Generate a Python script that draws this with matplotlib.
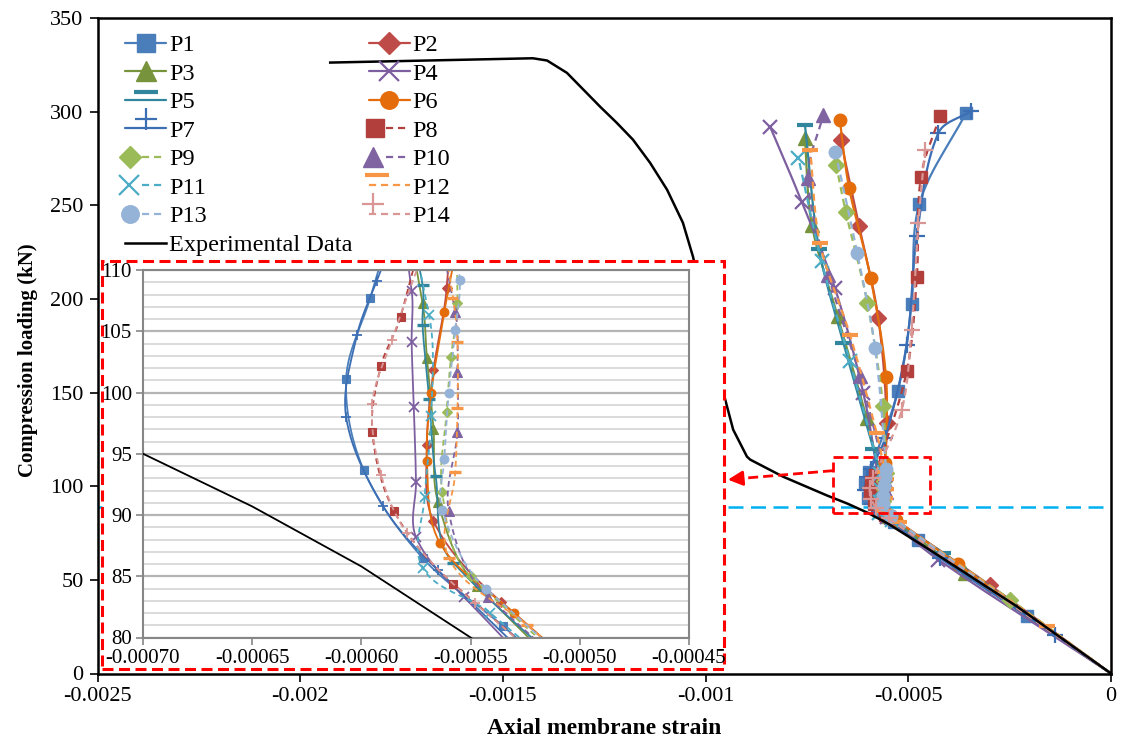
import numpy as np
import matplotlib
matplotlib.use("Agg")
import matplotlib.pyplot as plt
from matplotlib.lines import Line2D
from matplotlib.patches import Rectangle
from matplotlib.legend_handler import HandlerBase

plt.rcParams['font.family'] = ['Liberation Serif', 'DejaVu Serif']

# ---------------- data: axial membrane strain vs compression load (kN) ----------------
P1_strain = [0, -0.000208, -0.000475, -0.000535, -0.000572, -0.000599, -0.000607, -0.000596, -0.000526, -0.000492, -0.000473, -0.000358]
P1_load = [0, 30.6, 71.5, 80.9, 86.5, 93.7, 101.1, 107.7, 150.6, 197.3, 250.6, 299.2]

P2_strain = [0, -0.000298, -0.000536, -0.000567, -0.000570, -0.000567, -0.000561, -0.000553, -0.000574, -0.000621, -0.000667]
P2_load = [0, 47.0, 82.9, 89.5, 95.7, 101.8, 108.5, 133.8, 189.8, 238.7, 285.0]

P3_strain = [0, -0.000360, -0.000547, -0.000565, -0.000567, -0.000570, -0.000572, -0.000603, -0.000674, -0.000738, -0.000755]
P3_load = [0, 53.7, 84.2, 91.1, 97.0, 102.8, 107.3, 136.4, 190.7, 239.6, 285.9]

P4_strain = [0, -0.000426, -0.000553, -0.000575, -0.000575, -0.000576, -0.000577, -0.000577, -0.000611, -0.000681, -0.000763, -0.000841]
P4_load = [0, 60.8, 83.3, 88.2, 92.7, 98.8, 104.1, 108.3, 149.8, 205.8, 252.0, 292.0]

P5_strain = [0, -0.000414, -0.000558, -0.000566, -0.000569, -0.000572, -0.000572, -0.000586, -0.000660, -0.000720, -0.000755]
P5_load = [0, 64.4, 86.1, 93.2, 99.5, 105.5, 108.8, 119.9, 176.5, 226.6, 293.0]

P6_strain = [0, -0.000377, -0.000530, -0.000564, -0.000570, -0.000568, -0.000562, -0.000557, -0.000555, -0.000593, -0.000646, -0.000669]
P6_load = [0, 58.2, 82.0, 87.7, 94.4, 100.0, 106.6, 112.4, 158.3, 211.2, 259.2, 295.6]

P7_strain = [0, -0.000138, -0.000422, -0.000565, -0.000590, -0.000607, -0.000602, -0.000593, -0.000557, -0.000504, -0.000479, -0.000426, -0.000345]
P7_load = [0, 20.8, 61.7, 85.5, 90.7, 98.0, 104.7, 109.1, 125.8, 175.6, 233.4, 288.5, 300.3]

P8_strain = [0, -0.000558, -0.000585, -0.000595, -0.000591, -0.000582, -0.000504, -0.000479, -0.000469, -0.000422]
P8_load = [0, 84.4, 90.3, 96.8, 102.2, 106.2, 161.3, 211.7, 265.0, 297.8]

P9_strain = [0, -0.000249, -0.000550, -0.000563, -0.000561, -0.000559, -0.000556, -0.000562, -0.000601, -0.000654, -0.000678]
P9_load = [0, 39.5, 85.0, 91.9, 98.4, 102.9, 107.3, 142.6, 197.8, 246.2, 271.6]

P10_strain = [0, -0.000542, -0.000560, -0.000556, -0.000556, -0.000557, -0.000619, -0.000697, -0.000747, -0.000710]
P10_load = [0, 83.3, 90.3, 96.8, 101.7, 106.6, 158.6, 212.9, 264.5, 298.3]

P11_strain = [0, -0.000541, -0.000572, -0.000571, -0.000568, -0.000569, -0.000644, -0.000714, -0.000771]
P11_load = [0, 82.0, 85.7, 91.5, 98.1, 106.3, 166.6, 220.0, 275.2]

P12_strain = [0, -0.000159, -0.000524, -0.000560, -0.000557, -0.000556, -0.000556, -0.000558, -0.000578, -0.000644, -0.000718, -0.000742]
P12_load = [0, 25.2, 81.0, 86.5, 93.5, 98.7, 104.1, 107.7, 128.4, 180.9, 229.8, 279.6]

P13_strain = [0, -0.000543, -0.000563, -0.000562, -0.000560, -0.000557, -0.000555, -0.000582, -0.000626, -0.000680]
P13_load = [0, 84.0, 90.4, 94.6, 100.0, 105.1, 109.2, 173.8, 224.5, 278.7]

P14_strain = [0, -0.000548, -0.000579, -0.000591, -0.000595, -0.000586, -0.000516, -0.000492, -0.000475, -0.000459]
P14_load = [0, 82.8, 88.5, 93.3, 99.1, 104.3, 140.9, 183.6, 240.5, 279.6]

exp_strain = [0, -0.000232, -0.000455, -0.000550, -0.000600, -0.000650, -0.000700, -0.000809, -0.000890,
              -0.000898, -0.000932, -0.000960, -0.001031, -0.001056, -0.001095, -0.001137, -0.001179,
              -0.001219, -0.001260, -0.001342, -0.001391, -0.001426, -0.001926]
exp_load = [0, 35.8, 67.1, 80.0, 85.8, 90.7, 95.0, 105.1, 114.2, 115.8, 130.2, 153.1, 222.5, 240.7,
            258.3, 272.7, 285.0, 294.0, 302.6, 320.7, 327.3, 328.5, 326.2]

series_labels = ['P1', 'P2', 'P3', 'P4', 'P5', 'P6', 'P7', 'P8', 'P9', 'P10', 'P11', 'P12', 'P13', 'P14']

main_xticks = [-0.0025, -0.002, -0.0015, -0.001, -0.0005, 0]
main_xticklabels = ['-0.0025', '-0.002', '-0.0015', '-0.001', '-0.0005', '0']
main_yticks = [0, 50, 100, 150, 200, 250, 300, 350]
zoom_xticks = [-0.00070, -0.00065, -0.00060, -0.00055, -0.00050, -0.00045]
zoom_xticklabels = ['-0.00070', '-0.00065', '-0.00060', '-0.00055', '-0.00050', '-0.00045']
zoom_yticks = [80, 85, 90, 95, 100, 105, 110]
yield_load = 89.1

data = {
    'P1': (P1_strain, P1_load), 'P2': (P2_strain, P2_load), 'P3': (P3_strain, P3_load),
    'P4': (P4_strain, P4_load), 'P5': (P5_strain, P5_load), 'P6': (P6_strain, P6_load),
    'P7': (P7_strain, P7_load), 'P8': (P8_strain, P8_load), 'P9': (P9_strain, P9_load),
    'P10': (P10_strain, P10_load), 'P11': (P11_strain, P11_load), 'P12': (P12_strain, P12_load),
    'P13': (P13_strain, P13_load), 'P14': (P14_strain, P14_load),
}

# ---------------- styles ----------------
DASH = (0, (3.2, 2.2))
style = {
    'P1': dict(color='#4A7EBB', ls='-', marker='s', ms=9, mew=1.0),
    'P2': dict(color='#BE4B48', ls='-', marker='D', ms=8, mew=1.0),
    'P3': dict(color='#77933C', ls='-', marker='^', ms=10, mew=1.0),
    'P4': dict(color='#7D5FA0', ls='-', marker='x', ms=10, mew=1.6),
    'P5': dict(color='#31859C', ls='-', marker='_', ms=12, mew=3.0),
    'P6': dict(color='#E46C0A', ls='-', marker='o', ms=9, mew=1.0),
    'P7': dict(color='#3C6EB4', ls='-', marker='+', ms=11, mew=1.6),
    'P8': dict(color='#B23F3C', ls=DASH, marker='s', ms=9, mew=1.0),
    'P9': dict(color='#9BBB59', ls=DASH, marker='D', ms=8, mew=1.0),
    'P10': dict(color='#8064A2', ls=DASH, marker='^', ms=10, mew=1.0),
    'P11': dict(color='#4BACC6', ls=DASH, marker='x', ms=10, mew=1.6),
    'P12': dict(color='#F79646', ls=DASH, marker='_', ms=12, mew=3.0),
    'P13': dict(color='#95B3D7', ls=DASH, marker='o', ms=9, mew=1.0),
    'P14': dict(color='#D99694', ls=DASH, marker='+', ms=11, mew=1.6),
}


def smooth(axis, xs, ys, n=14):
    """Cubic Bezier smoothing through the points, computed in display space.
    Tangent length is tied to each segment's length so long runs don't overshoot."""
    pts = axis.transData.transform(np.column_stack([xs, ys]))
    m = len(pts)
    tang = np.zeros_like(pts)
    for i in range(m):
        d = pts[min(i + 1, m - 1)] - pts[max(i - 1, 0)]
        L = np.hypot(*d)
        tang[i] = d / L if L > 0 else 0.0
    t = np.linspace(0, 1, n, endpoint=False)[:, None]
    segs = []
    for i in range(m - 1):
        p1, p2 = pts[i], pts[i + 1]
        L = np.hypot(*(p2 - p1))
        c1 = p1 + tang[i] * L / 3.0
        c2 = p2 - tang[i + 1] * L / 3.0
        segs.append((1 - t) ** 3 * p1 + 3 * (1 - t) ** 2 * t * c1 + 3 * (1 - t) * t ** 2 * c2 + t ** 3 * p2)
    segs.append(pts[-1:])
    out = axis.transData.inverted().transform(np.vstack(segs))
    return out[:, 0], out[:, 1], n


def draw_series(axis, lw, mscale):
    handles = {}
    for lab in series_labels:
        xs, ys = data[lab]
        st = style[lab]
        sx, sy, n = smooth(axis, xs, ys)
        marks = [i * n for i in range(1, len(xs))]
        h, = axis.plot(sx, sy, color=st['color'], linestyle=st['ls'], linewidth=lw,
                       marker=st['marker'], markersize=st['ms'] * mscale,
                       markeredgewidth=st['mew'] * (0.8 if mscale < 1 else 1.0),
                       markerfacecolor=st['color'], markeredgecolor=st['color'],
                       markevery=marks, label=lab, solid_capstyle='round')
        handles[lab] = h
    return handles


# ---------------- figure / main axes ----------------
W, H = 1126, 743
fig = plt.figure(figsize=(W / 100, H / 100), dpi=100)
ax = fig.add_axes([97.5 / W, (H - 673.5) / H, 1013.5 / W, 655.5 / H])
ax.set_xlim(-0.0025, 0)
ax.set_ylim(0, 350)
ax.set_xticks(main_xticks, main_xticklabels)
ax.set_yticks(main_yticks)
ax.tick_params(direction='out', length=6, width=1.2, labelsize=16, pad=4)
for sp in ax.spines.values():
    sp.set_linewidth(1.8)
    sp.set_color('black')
ax.set_xlabel('Axial membrane strain', fontsize=17, fontweight='bold', labelpad=8)
ax.set_ylabel('Compression loading (kN)', fontsize=15, fontweight='bold')
ax.yaxis.set_label_coords(-0.0587, 0.478)

ax.axhline(yield_load, color='#00B0F0', linestyle=(0, (6, 3)), linewidth=1.8, zorder=1)

handles = draw_series(ax, lw=1.6, mscale=1.0)
exp_h, = ax.plot(exp_strain, exp_load, color='black', linewidth=1.8, label='Experimental Data', zorder=3)

# zoom window marker + arrow towards the magnified view
ax.add_patch(Rectangle((-0.000686, 85.9), 0.000240, 29.9, fill=False, edgecolor='#FF0000',
                       linestyle=(0, (3.6, 1.8)), linewidth=2.0, zorder=4))
ax.plot([-0.000686, -0.000915], [108.3, 104.1], color='#FF0000', linestyle=(0, (3.6, 1.8)),
        linewidth=2.0, zorder=4)
ax.annotate('', xy=(-0.000945, 103.5), xytext=(-0.000915, 104.1),
            arrowprops=dict(arrowstyle='-|>', color='#FF0000', lw=2.0, mutation_scale=22,
                            shrinkA=0, shrinkB=0), zorder=4)


# ---------------- legend ----------------
class SeriesHandler(HandlerBase):
    def __init__(self, mfrac=0.5, mdy=0.0, line_start=0.0):
        super().__init__()
        self.mfrac = mfrac
        self.mdy = mdy
        self.line_start = line_start

    def create_artists(self, legend, orig_handle, xdescent, ydescent, width, height, fontsize, trans):
        y = (height - ydescent) / 2
        x0 = -xdescent
        line = Line2D([x0 + self.line_start * width, x0 + width], [y, y])
        line.update_from(orig_handle)
        line.set_marker('None')
        line.set_markevery(None)
        line.set_transform(trans)
        arts = [line]
        if orig_handle.get_marker() not in (None, 'None', ''):
            mk = Line2D([x0 + self.mfrac * width], [y + self.mdy * fontsize])
            mk.update_from(orig_handle)
            mk.set_linestyle('None')
            mk.set_markevery(None)
            mk.set_markersize(orig_handle.get_markersize() * legend.markerscale)
            mk.set_transform(trans)
            arts.append(mk)
        return arts


handler_opts = {
    'P1': (0.5, 0, 0), 'P2': (0.5, 0, 0), 'P3': (0.5, 0, 0), 'P4': (0.5, 0, 0),
    'P5': (0.5, 0.30, 0), 'P6': (0.5, 0, 0), 'P7': (0.5, 0.36, 0), 'P8': (0.15, 0, 0.42),
    'P9': (0.12, 0, 0.40), 'P10': (0.12, 0, 0.42), 'P11': (0.10, 0, 0.40), 'P12': (0.2, 0.42, 0),
    'P13': (0.12, 0, 0.40), 'P14': (0.12, 0.42, 0),
}
order = ['P1', 'P3', 'P5', 'P7', 'P9', 'P11', 'P13', 'P2', 'P4', 'P6', 'P8', 'P10', 'P12', 'P14']
leg_handles = [handles[k] for k in order[:7]] + [exp_h] + [handles[k] for k in order[7:]]
leg_labels = order[:7] + ['Experimental Data'] + order[7:]
hmap = {handles[k]: SeriesHandler(*handler_opts[k]) for k in series_labels}
hmap[exp_h] = SeriesHandler(0.5, 0, 0)
ax.legend(leg_handles, leg_labels, ncol=2, loc='upper left',
          bbox_to_anchor=(125 / W, (H - 34) / H), bbox_transform=fig.transFigure,
          frameon=False, fontsize=17.5, handlelength=1.7, handletextpad=0.12,
          columnspacing=0.65, labelspacing=0.27, borderpad=0, borderaxespad=0,
          markerscale=1.4, handler_map=hmap)

# ---------------- magnified view ----------------
fig.patches.append(Rectangle((101.5 / W, (H - 668.5) / H), 622 / W, 407.5 / H,
                             transform=fig.transFigure, facecolor='white', edgecolor='#FF0000',
                             linestyle=(0, (3.6, 1.8)), linewidth=2.2, zorder=1, figure=fig))

axz = fig.add_axes([143 / W, (H - 637.5) / H, 546 / W, 367.5 / H], zorder=2)
axz.set_xlim(-0.00070, -0.00045)
axz.set_ylim(80, 110)
axz.set_xticks(zoom_xticks, zoom_xticklabels)
axz.set_yticks(zoom_yticks)
axz.set_yticks(np.arange(80, 111, 1), minor=True)
axz.tick_params(axis='y', which='minor', length=0)
axz.tick_params(which='major', direction='out', length=5, width=1.2, color='#868686',
                labelsize=15, pad=3)
axz.grid(axis='y', which='minor', color='#D4D4D4', linewidth=1.2)
axz.grid(axis='y', which='major', color='#B4B4B4', linewidth=1.6)
axz.set_axisbelow(True)
for sp in axz.spines.values():
    sp.set_linewidth(1.5)
    sp.set_color('#868686')

draw_series(axz, lw=1.3, mscale=0.7)
axz.plot(exp_strain, exp_load, color='black', linewidth=1.3, zorder=3)

fig.savefig('out.png', dpi=100)
